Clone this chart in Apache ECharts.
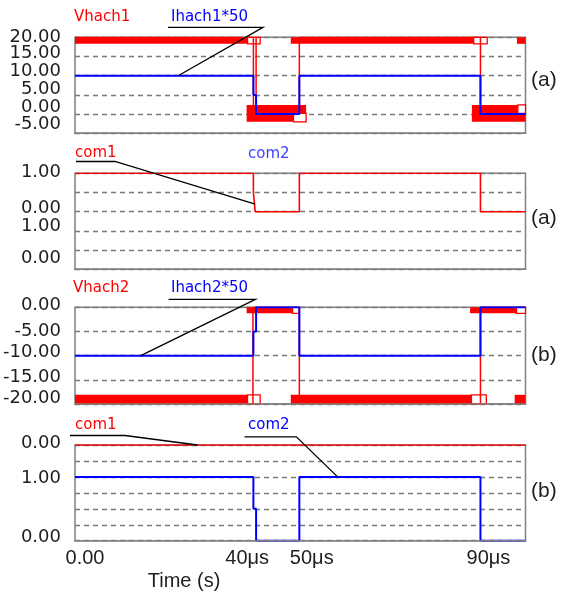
<!DOCTYPE html>
<html>
<head>
<meta charset="utf-8">
<script src="https://cdn.jsdelivr.net/npm/echarts@6/dist/echarts.min.js"></script>
<style>
  html, body { margin: 0; padding: 0; background: #fff; }
  #chart { width: 562px; height: 594px; }
</style>
</head>
<body>
<div id="chart"></div>
<script>
// ---- time base (microseconds) ----
const timeTicks = [0, 40, 50, 90];
const timeTickLabels = ['0.00', '40μs', '50μs', '90μs'];

// ---- panel (a): switch 1 voltage and current x50 ----
const vhach1 = [[0, 20], [39.6, 20], [39.6, 0], [40.2, 0], [40.2, 20], [40.2, 0], [49.8, 0], [49.8, 20], [90, 20], [90, 0], [100, 0]];
const ihach1x50 = [[0, 10], [39.6, 10], [39.6, 5], [40.2, 5], [40.2, 0], [49.8, 0], [49.8, 10], [90, 10], [90, 0], [100, 0]];
// ringing envelope of Vhach1: [t from, t to, low, high]
const vhach1Ringing = [[0, 38.3, 18.3, 20], [47.9, 88.5, 18.3, 20], [98.1, 100, 18.3, 20], [38.1, 51.3, -2, 2.4], [88.1, 100, -2, 2.4]];
const vhach1Quiet = [[38.3, 41.1, 18.3, 20], [88.5, 91.5, 18.3, 20], [48.5, 51.3, -2, 0.2], [98.3, 100, 0.2, 2.4]];

// ---- panel (a): gate commands ----
const com1a = [[0, 1], [39.6, 1], [39.6, 0.5], [40, 0.5], [40, 0], [49.8, 0], [49.8, 1], [90, 1], [90, 0], [100, 0]];

// ---- panel (b): switch 2 voltage and current x50 ----
const vhach2 = [[0, -20], [39.5, -20], [39.5, 0], [49.8, 0], [49.8, -20], [90, -20], [90, 0], [100, 0]];
const ihach2x50 = [[0, -10], [39.6, -10], [39.6, -5], [40.2, -5], [40.2, 0], [49.8, 0], [49.8, -10], [90, -10], [90, 0], [100, 0]];
const vhach2Ringing = [[0, 38.3, -20, -18.1], [47.9, 88, -20, -18.1], [97.6, 100, -20, -18.1], [38.1, 49, -1.25, 0], [87.7, 100, -1.25, 0]];
const vhach2Quiet = [[38.3, 41.1, -20, -18.1], [88, 91.3, -20, -18.1], [48.3, 49.8, -1.25, 0], [98, 100, -1.25, 0]];

// ---- panel (b): gate commands ----
const com1b = [[0, 0], [100, 0]];
const com2b = [[0, 1], [39.6, 1], [39.6, 0.5], [40.2, 0.5], [40.2, 0], [49.8, 0], [49.8, 1], [90, 1], [90, 0], [100, 0]];

// ---- y tick labels per axis ----
const yTicksA1even = [20, 10, 0];
const yTicksA1odd = [15, 5, -5];
const yTicksCom1a = [1, 0];
const yTicksCom2a = [1, 0];
const yTicksB1 = [0, -5, -10, -15, -20];
const yTicksCom2b = [1, 0];
const yTicksCom1b = [0];

// ---------------- styling ----------------
const RED = '#ff0000', BLUE = '#0000ff', INK = '#1e1e1e', FRAME = '#808080';
const TICK_FONT = 'DejaVu Sans';
const TIME_FONT = 'Liberation Sans';

// label lift (px upward) of the y tick labels, as the plotter stacks them
const liftA1 = { '20': 0, '15': 2.8, '10': 4.4, '5': 5.9, '0': 7.1, '-5': 8.8 };
const liftCom1a = { '1': 1.3, '0': 3.7 };
const liftCom2a = { '1': 4.9, '0': 11.3 };
const liftB1 = { '0': 1.6, '-5': -0.2, '-10': 3.4, '-15': 2.6, '-20': 5.7 };
const liftCom2b = { '1': -1.4, '0': 3 };
const liftCom1b = { '0': 1.7 };
// horizontal nudge (px) of the time labels
const timeNudge = { '0': 10, '40': -8, '50': 11.5, '90': 8 };

function liftKey(px) { return 'v' + (px < 0 ? 'n' : 'p') + Math.round(Math.abs(px) * 10); }
function nudgeKey(px) { return 'h' + (px < 0 ? 'n' : 'p') + Math.round(Math.abs(px) * 10); }

const richLift = {};
[liftA1, liftCom1a, liftCom2a, liftB1, liftCom2b, liftCom1b].forEach(function (tbl) {
  Object.keys(tbl).forEach(function (k) {
    const px = tbl[k];
    richLift[liftKey(px)] = { padding: px >= 0 ? [0, 0, 2 * px, 0] : [-2 * px, 0, 0, 0] };
  });
});
const richNudge = {};
Object.keys(timeNudge).forEach(function (k) {
  const px = timeNudge[k];
  richNudge[nudgeKey(px)] = { padding: px >= 0 ? [0, 0, 0, 2 * px] : [0, -2 * px, 0, 0] };
});

const gridBoxes = [
  { top: 37.3, height: 96 },
  { top: 173.3, height: 96 },
  { top: 307.3, height: 96.7 },
  { top: 445, height: 95.7 }
];

const grids = gridBoxes.map(function (g) {
  return {
    left: 75, right: 36.5, top: g.top, height: g.height,
    show: true, borderColor: FRAME, borderWidth: 1.5, backgroundColor: '#fff',
    containLabel: false, outerBoundsMode: 'none'
  };
});

const xAxes = gridBoxes.map(function (g, i) {
  const last = i === gridBoxes.length - 1;
  return {
    type: 'value', gridIndex: i, min: 0, max: 100,
    axisLine: { show: false }, axisTick: { show: false }, splitLine: { show: false },
    axisLabel: {
      show: last,
      customValues: timeTicks,
      showMinLabel: true, showMaxLabel: true, hideOverlap: false,
      margin: 8,
      fontFamily: TIME_FONT, fontSize: 20, color: INK, lineHeight: 20,
      formatter: function (v) {
        const idx = timeTicks.indexOf(v);
        const text = idx >= 0 ? timeTickLabels[idx] : '';
        return '{' + nudgeKey(timeNudge[String(v)] || 0) + '|' + text + '}';
      },
      rich: richNudge
    }
  };
});

const dashed = { show: true, lineStyle: { color: '#7a7a7a', width: 1.4, type: [5, 4] } };

function yAxis(gridIndex, min, max, interval, ticks, lifts, withGrid) {
  return {
    type: 'value', gridIndex: gridIndex, min: min, max: max, interval: interval,
    position: 'left', offset: 0,
    axisLine: { show: false }, axisTick: { show: false },
    splitLine: withGrid ? dashed : { show: false },
    axisLabel: {
      show: true,
      customValues: ticks,
      showMinLabel: true, showMaxLabel: true, hideOverlap: false,
      margin: 14,
      fontFamily: TICK_FONT, fontSize: 18, color: INK, lineHeight: 18,
      formatter: function (v) {
        const px = lifts[String(v)] || 0;
        return '{' + liftKey(px) + '|' + v.toFixed(2) + '}';
      },
      rich: richLift
    }
  };
}

const yAxes = [
  yAxis(0, -5, 20, 5, yTicksA1even, liftA1, true),      // 0: Vhach1, Ihach1*50
  yAxis(1, -1.5, 1, 0.5, yTicksCom1a, liftCom1a, true), // 1: com1 (a)
  yAxis(1, 0, 2.5, 0.5, yTicksCom2a, liftCom2a, false), // 2: com2 (a)
  yAxis(2, -20, 0, 5, yTicksB1, liftB1, true),          // 3: Vhach2, Ihach2*50
  yAxis(3, 0, 1.5, 0.25, yTicksCom2b, liftCom2b, true), // 4: com2 (b)
  yAxis(3, -1.5, 0, 0.25, yTicksCom1b, liftCom1b, false), // 5: com1 (b)
  yAxis(0, -5, 20, 5, yTicksA1odd, liftA1, false)       // 6: in-between labels of (a)
];

function trace(name, data, color, width, xi, yi) {
  return {
    type: 'line', name: name, data: data, xAxisIndex: xi, yAxisIndex: yi,
    symbol: 'none', showSymbol: false, animation: false, silent: true,
    lineStyle: { color: color, width: width }, itemStyle: { color: color }, z: 4
  };
}

function boxes(name, data, xi, yi, style, z) {
  return {
    type: 'custom', name: name, data: data, xAxisIndex: xi, yAxisIndex: yi,
    coordinateSystem: 'cartesian2d', animation: false, silent: true, z: z,
    encode: { x: [0, 1], y: [2, 3] },
    renderItem: function (params, api) {
      const a = api.coord([api.value(0), api.value(3)]);
      const b = api.coord([api.value(1), api.value(2)]);
      return {
        type: 'rect',
        shape: { x: a[0], y: a[1], width: b[0] - a[0], height: b[1] - a[1] },
        style: style
      };
    }
  };
}

const solidRed = { fill: RED };
const quietBox = { fill: '#ffffff', stroke: RED, lineWidth: 1.3 };

const series = [
  boxes('Vhach1 ringing', vhach1Ringing, 0, 0, solidRed, 2),
  boxes('Vhach1 quiet', vhach1Quiet, 0, 0, quietBox, 3),
  trace('Vhach1', vhach1, RED, 1.5, 0, 0),
  trace('Ihach1*50', ihach1x50, BLUE, 2, 0, 0),

  trace('com1', com1a, RED, 1.6, 1, 1),

  boxes('Vhach2 ringing', vhach2Ringing, 2, 3, solidRed, 2),
  boxes('Vhach2 quiet', vhach2Quiet, 2, 3, quietBox, 3),
  trace('Vhach2', vhach2, RED, 1.5, 2, 3),
  trace('Ihach2*50', ihach2x50, BLUE, 2, 2, 3),

  trace('com1', com1b, RED, 1.6, 3, 5),
  trace('com2', com2b, BLUE, 2, 3, 4)
];

const chart = echarts.init(document.getElementById('chart'), null, { renderer: 'canvas' });
chart.setOption({
  animation: false,
  backgroundColor: '#ffffff',
  grid: grids,
  xAxis: xAxes,
  yAxis: yAxes,
  series: series
});

// ---- trace names with leader lines to their curves ----
function at(xi, yi, pt) { return chart.convertToPixel({ xAxisIndex: xi, yAxisIndex: yi }, pt); }

function label(text, x, y, color, size, family, align) {
  return {
    type: 'text', x: x, y: y, z: 100,
    style: {
      text: text, fill: color, fontSize: size || 15, fontFamily: family || TICK_FONT,
      align: align || 'left', verticalAlign: 'middle',
      textAlign: align || 'left', textVerticalAlign: 'middle'
    }
  };
}
function leader(points) {
  return {
    type: 'polyline', z: 100,
    shape: { points: points },
    style: { stroke: '#000000', lineWidth: 1.3, fill: null }
  };
}
// the lower frame edge sits above the traces
function lowerEdge(xi, yi, yMin) {
  const a = at(xi, yi, [0, yMin]);
  const b = at(xi, yi, [100, yMin]);
  return {
    type: 'line', z: 90,
    shape: { x1: a[0] - 0.75, y1: a[1], x2: b[0] + 0.75, y2: b[1] },
    style: { stroke: FRAME, lineWidth: 1.5 }
  };
}

const graphics = [
  lowerEdge(0, 0, -5),
  lowerEdge(1, 1, -1.5),
  lowerEdge(2, 3, -20),
  lowerEdge(3, 4, 0),

  label('Vhach1', 74, 17, RED),
  label('Ihach1*50', 171, 17, BLUE),
  leader([[168, 27.3], [263, 27.3], at(0, 0, [22.9, 10])]),

  label('com1', 75, 153.5, RED),
  leader([[76, 161.5], [115, 161.5], at(1, 1, [40, 0.2])]),
  label('com2', 248, 154, '#4040ff'),

  label('Vhach2', 73, 288, RED),
  label('Ihach2*50', 171, 288, BLUE),
  leader([[168.6, 299.3], [255.4, 299.3], at(2, 3, [14.6, -10])]),

  label('com1', 75, 425, RED),
  leader([[70, 435.5], [125, 435.5], at(3, 5, [27.2, 0])]),
  label('com2', 248, 425, BLUE),
  leader([[244.6, 436.8], [296.4, 436.8], at(3, 4, [58.3, 1])]),

  label('(a)', 531, 80, INK, 21, TIME_FONT),
  label('(a)', 531, 218, INK, 21, TIME_FONT),
  label('(b)', 531, 355, INK, 21, TIME_FONT),
  label('(b)', 531, 491, INK, 21, TIME_FONT),

  label('Time (s)', 184, 581.5, INK, 20, TIME_FONT, 'center')
];

chart.setOption({ graphic: { elements: graphics } });
</script>
</body>
</html>
